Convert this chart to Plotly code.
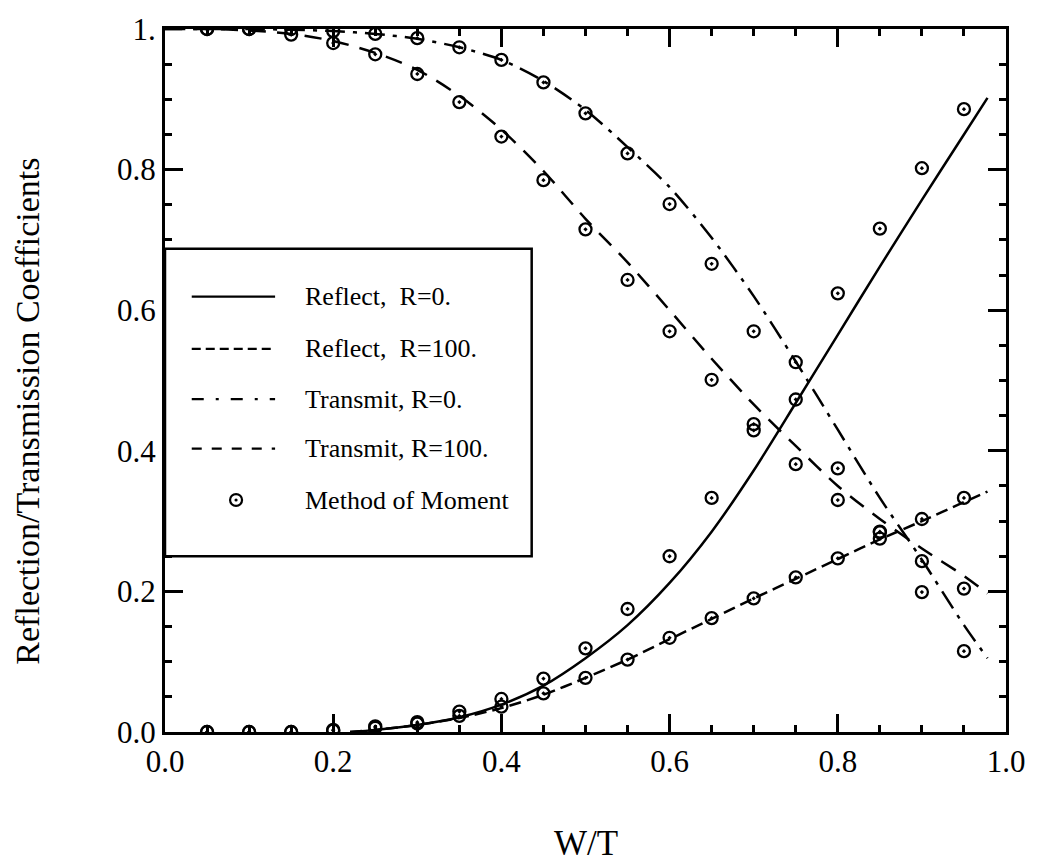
import plotly.graph_objects as go

# ---- curves (analytic solutions) ----
x_rise = [0.22, 0.25, 0.30, 0.35, 0.40, 0.45, 0.50, 0.55, 0.60, 0.65, 0.70,
          0.75, 0.80, 0.85, 0.90, 0.95, 0.978]
reflect_r0 = [0.0, 0.003, 0.010, 0.021, 0.039, 0.066, 0.105, 0.152, 0.212, 0.285,
              0.372, 0.468, 0.565, 0.662, 0.757, 0.850, 0.902]
reflect_r100 = [0.0, 0.003, 0.010, 0.020, 0.034, 0.053, 0.077, 0.103, 0.132, 0.161,
                0.190, 0.218, 0.246, 0.274, 0.300, 0.327, 0.342]

x_fall = [0.0, 0.05, 0.10, 0.15, 0.20, 0.25, 0.30, 0.35, 0.40, 0.45, 0.50, 0.55,
          0.60, 0.65, 0.70, 0.75, 0.80, 0.85, 0.90, 0.95, 0.978]
transmit_r0 = [1.0, 1.0, 1.0, 0.999, 0.997, 0.993, 0.986, 0.974, 0.956, 0.926, 0.885,
               0.832, 0.775, 0.703, 0.620, 0.527, 0.430, 0.333, 0.245, 0.152, 0.105]
transmit_r100 = [1.0, 1.0, 0.998, 0.993, 0.983, 0.966, 0.942, 0.905, 0.857, 0.798,
                 0.730, 0.668, 0.600, 0.531, 0.466, 0.407, 0.350, 0.303, 0.261, 0.222,
                 0.197]

# ---- method of moment results ----
mom_x = [0.05, 0.10, 0.15, 0.20, 0.25, 0.30, 0.35, 0.40, 0.45, 0.50, 0.55, 0.60,
         0.65, 0.70, 0.75, 0.80, 0.85, 0.90, 0.95]
mom_reflect_r0 = [0.0, 0.0, 0.0, 0.003, 0.008, 0.014, 0.029, 0.047, 0.076, 0.119,
                  0.175, 0.250, 0.333, 0.429, 0.473, 0.624, 0.716, 0.802, 0.886]
mom_reflect_r100 = [0.0, 0.0, 0.0, 0.002, 0.006, 0.012, 0.023, 0.036, 0.055, 0.077,
                    0.103, 0.134, 0.162, 0.190, 0.220, 0.247, 0.275, 0.303, 0.333]
mom_transmit_r0 = [1.0, 1.0, 1.0, 0.997, 0.993, 0.987, 0.974, 0.956, 0.924, 0.880,
                   0.823, 0.751, 0.666, 0.570, 0.526, 0.375, 0.284, 0.199, 0.115]
mom_transmit_r100 = [1.0, 1.0, 0.992, 0.980, 0.964, 0.936, 0.896, 0.847, 0.785, 0.715,
                     0.643, 0.570, 0.501, 0.438, 0.381, 0.330, 0.285, 0.243, 0.204]

# ---- axis ticks ----
major_ticks = [0.0, 0.2, 0.4, 0.6, 0.8, 1.0]
x_ticktext = ["0.0", "0.2", "0.4", "0.6", "0.8", "1.0"]
y_ticktext = ["0.0", "0.2", "0.4", "0.6", "0.8", "1."]
minor_step = 0.05

# ---- legend entries ----
legend_labels = ["Reflect,\u00a0 R=0.", "Reflect,\u00a0 R=100.", "Transmit, R=0.",
                 "Transmit, R=100.", "Method of Moment"]

FONT = "Liberation Serif, Times New Roman, serif"
LW = 2.5
W, H = 1038, 867
M_L, M_R, M_T, M_B = 165, 32, 23, 135
PLOT_W = W - M_L - M_R
PLOT_H = H - M_T - M_B

DASH_R0 = "solid"
DASH_R100 = "12px,6px"
DASH_T0 = "20px,8px,4px,8px"
DASH_T100 = "17px,11px"

fig = go.Figure()

curves = [
    (x_rise, reflect_r0, DASH_R0, legend_labels[0]),
    (x_rise, reflect_r100, DASH_R100, legend_labels[1]),
    (x_fall, transmit_r0, DASH_T0, legend_labels[2]),
    (x_fall, transmit_r100, DASH_T100, legend_labels[3]),
]
for xs, ys, dash, name in curves:
    fig.add_trace(go.Scatter(
        x=xs, y=ys, mode="lines", name=name, showlegend=False,
        line=dict(color="black", width=LW, dash=dash, shape="spline", smoothing=0.8),
    ))

for ys in [mom_reflect_r0, mom_reflect_r100, mom_transmit_r0, mom_transmit_r100]:
    fig.add_trace(go.Scatter(
        x=mom_x, y=ys, mode="markers", name=legend_labels[4], showlegend=False,
        marker=dict(symbol="circle-open-dot", size=12, color="black",
                    line=dict(color="black", width=2.3)),
    ))

# ---- hand-drawn legend box ----
box_x0, box_x1, box_y0, box_y1 = 0.0, 0.436, 0.25, 0.6875
row_y = [0.6194, 0.545, 0.4735, 0.403, 0.330]
sample_x0, sample_x1 = 0.0318, 0.1309
text_x = 0.164
marker_x = 0.0845
ring_r, dot_r = 6.0, 1.6   # legend symbol radii in px

shapes = [dict(type="rect", xref="x", yref="y", x0=box_x0, x1=box_x1, y0=box_y0,
               y1=box_y1, line=dict(color="black", width=2.5), fillcolor="white")]
legend_dashes = [DASH_R0, "9px,5px", "12px,12px,3px,12px", "10px,10px"]
for yy, dash in zip(row_y[:4], legend_dashes):
    shapes.append(dict(type="line", xref="x", yref="y", x0=sample_x0, x1=sample_x1,
                       y0=yy, y1=yy, line=dict(color="black", width=2.2, dash=dash)))
for r, fill, lw in ((ring_r, "rgba(0,0,0,0)", 2.2), (dot_r, "black", 0)):
    rx, ry = r / PLOT_W, r / PLOT_H
    shapes.append(dict(type="circle", xref="x", yref="y",
                       x0=marker_x - rx, x1=marker_x + rx,
                       y0=row_y[4] - ry, y1=row_y[4] + ry,
                       line=dict(color="black", width=lw), fillcolor=fill))

annotations = []
for yy, label in zip(row_y, legend_labels):
    annotations.append(dict(x=text_x, y=yy, xref="x", yref="y", text=label,
                            showarrow=False, xanchor="left", yanchor="middle",
                            font=dict(family=FONT, size=26, color="black")))

# axis titles
annotations.append(dict(x=0.5, y=-0.158, xref="paper", yref="paper", text="W/T",
                        showarrow=False, xanchor="center", yanchor="middle",
                        font=dict(family=FONT, size=35, color="black")))
annotations.append(dict(x=-0.163, y=0.457, xref="paper", yref="paper",
                        text="Reflection/Transmission Coefficients", textangle=-90,
                        showarrow=False, xanchor="center", yanchor="middle",
                        font=dict(family=FONT, size=34, color="black")))

axis_common = dict(
    range=[0, 1], showgrid=False, showline=True, linewidth=3, linecolor="black",
    mirror="allticks", ticks="inside", ticklen=18, tickwidth=2.5, tickcolor="black",
    tickmode="array", tickvals=major_ticks,
    tickfont=dict(family=FONT, size=31, color="black"),
    minor=dict(dtick=minor_step, ticks="inside", ticklen=7, tickwidth=2.5,
               tickcolor="black"),
)

fig.update_layout(
    width=W, height=H, autosize=False,
    margin=dict(l=M_L, r=M_R, t=M_T, b=M_B),
    paper_bgcolor="white", plot_bgcolor="white",
    showlegend=False,
    xaxis=dict(axis_common, ticktext=x_ticktext),
    yaxis=dict(axis_common, ticktext=y_ticktext),
    shapes=shapes,
    annotations=annotations,
)

fig.write_html("out.html")
